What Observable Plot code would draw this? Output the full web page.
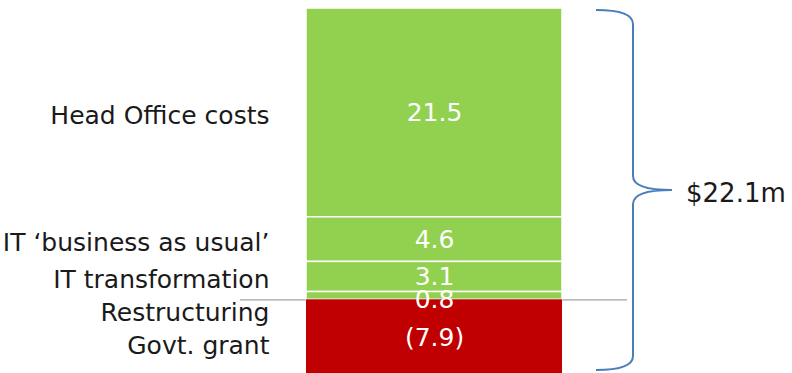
<!DOCTYPE html>
<html><head><meta charset="utf-8">
<script src="https://cdn.jsdelivr.net/npm/d3@7"></script>
<script src="https://cdn.jsdelivr.net/npm/@observablehq/plot@0.6"></script>
<style>
html,body{margin:0;padding:0;background:#fff;overflow:hidden}
#chart svg{display:block;overflow:hidden}
</style></head><body><div id="chart"></div>
<script>
// ---- data ----
const categories = ["Head Office costs", "IT \u2018business as usual\u2019", "IT transformation", "Restructuring", "Govt. grant"];
const values = [21.5, 4.6, 3.1, 0.8, -7.9];
const barName = "Total";
const totalPrefix = "$";
const totalSuffix = "m";

// ---- derived ----
const data = categories.map((c, i) => ({category: c, value: values[i], bar: barName}));
const fmt = v => v < 0 ? `(${d3.format(".1f")(-v)})` : d3.format(".1f")(v);
const total = d3.sum(values);

// stack extents (bottom-up order is reverse of the list)
let posSum = 0, negSum = 0;
const mids = new Array(data.length);
for (let i = data.length - 1; i >= 0; --i) {
  const v = data[i].value;
  if (v >= 0) { mids[i] = posSum + v / 2; posSum += v; } else { mids[i] = negSum + v / 2; negSum += v; }
}

const W = 792, H = 373;
const yRange = [376, 8];
const pxPerUnit = (yRange[0] - yRange[1]) / (posSum - negSum);
// positions at segment midpoints, pushed apart (top to bottom) by a minimum pixel gap
function spread(gapPx) {
  const g = gapPx / pxPerUnit;
  let prev = Infinity;
  return mids.map(m => (prev = Math.min(m, prev - g)));
}
const labelY = spread(33);
const valueY = spread(23);
const labelData = data.map((d, i) => ({category: d.category, ly: labelY[i]}));
const valueData = data.map((d, i) => ({bar: d.bar, txt: fmt(d.value), vy: valueY[i]}));

const font = "'DejaVu Sans', sans-serif";
const green = "#92D050", red = "#C00000";

const chart = Plot.plot({
  width: W, height: H,
  marginLeft: 306, marginRight: 230, marginTop: 8, marginBottom: 0,
  style: {fontFamily: font, background: "#fff", overflow: "hidden"},
  x: {domain: [barName], padding: 0, axis: null},
  y: {domain: [negSum, posSum], range: yRange, axis: null},
  marks: [
    Plot.ruleY([0], {stroke: "#a0a0a0", strokeWidth: 1.2, insetLeft: -66, insetRight: -65}),
    Plot.barY(data.filter(d => d.value >= 0), Plot.stackY({x: "bar", y: "value", reverse: true, fill: green, stroke: "#fff", strokeWidth: 1.5})),
    Plot.barY(data.filter(d => d.value < 0), {x: "bar", y: "value", fill: red}),
    Plot.text(valueData, {x: "bar", y: "vy", text: "txt", fill: "#fff", fontSize: 25, fontFamily: font}),
    Plot.text(labelData, {y: "ly", text: "category", frameAnchor: "left", textAnchor: "end", dx: -37, dy: 3, fontSize: 25, fill: "#1a1a1a", fontFamily: font})
  ]
});
document.getElementById("chart").appendChild(chart);

// ---- brace annotation for the total, positioned via the library's scales ----
const xs = chart.scale("x"), ys = chart.scale("y");
const barRight = xs.apply(barName) + (xs.bandwidth ?? 256);
const braceTop = ys.apply(posSum) + 2;
const braceBottom = Math.min(ys.apply(negSum), H) - 3;
const braceMid = (braceTop + braceBottom) / 2;
const xTip = barRight + 34, xV = barRight + 71, xMid = barRight + 110;
const r = 14;
const p = d3.path();
p.moveTo(xTip, braceTop);
p.quadraticCurveTo(xV, braceTop, xV, braceTop + r);
p.lineTo(xV, braceMid - r);
p.quadraticCurveTo(xV, braceMid, xMid, braceMid);
p.quadraticCurveTo(xV, braceMid, xV, braceMid + r);
p.lineTo(xV, braceBottom - r);
p.quadraticCurveTo(xV, braceBottom, xTip, braceBottom);
const svg = d3.select(chart);
svg.append("path").attr("d", p.toString()).attr("fill", "none").attr("stroke", "#4a7ebb").attr("stroke-width", 2);
svg.append("text").attr("x", barRight + 124).attr("y", braceMid + 4)
  .attr("text-anchor", "start").attr("dominant-baseline", "middle")
  .attr("font-size", 26).attr("font-family", font).attr("fill", "#1a1a1a")
  .text(`${totalPrefix}${d3.format(".1f")(total)}${totalSuffix}`);
</script></body></html>
